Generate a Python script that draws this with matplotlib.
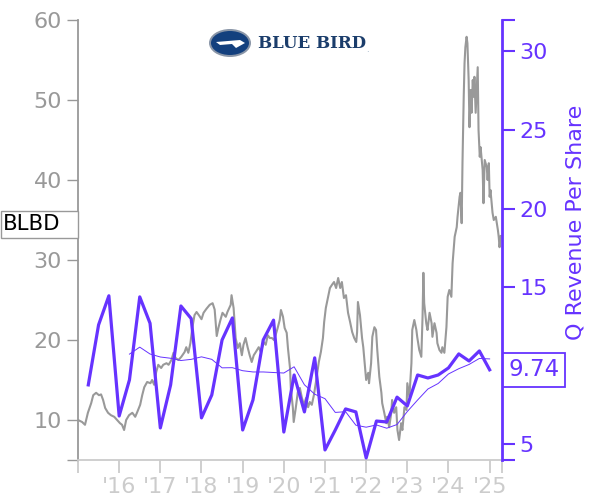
import matplotlib
matplotlib.use("Agg")
import matplotlib.pyplot as plt
import matplotlib.transforms as mtransforms
import numpy as np
import pandas as pd
from matplotlib.patches import Ellipse, Polygon, Rectangle

# ---------------- data ----------------
ticker = "BLBD"
last_rev_label = "9.74"

price_dates = [
    2015.00, 2015.10, 2015.17, 2015.24, 2015.32, 2015.37, 2015.44, 2015.51, 2015.56, 2015.61,
    2015.66, 2015.73, 2015.80, 2015.88, 2015.95, 2016.02, 2016.07, 2016.12, 2016.17, 2016.24,
    2016.32, 2016.39, 2016.44, 2016.51, 2016.56, 2016.61, 2016.68, 2016.76, 2016.80, 2016.85,
    2016.90, 2016.95, 2017.02, 2017.07, 2017.15, 2017.20, 2017.27, 2017.32, 2017.37, 2017.44,
    2017.51, 2017.59, 2017.63, 2017.68, 2017.73, 2017.78, 2017.83, 2017.88, 2017.95, 2018.00,
    2018.05, 2018.12, 2018.20, 2018.27, 2018.32, 2018.37, 2018.41, 2018.46, 2018.51, 2018.59,
    2018.63, 2018.71, 2018.73, 2018.78, 2018.83, 2018.88, 2018.93, 2018.98, 2019.02, 2019.07,
    2019.12, 2019.17, 2019.22, 2019.27, 2019.32, 2019.39, 2019.44, 2019.51, 2019.56, 2019.61,
    2019.66, 2019.71, 2019.76, 2019.80, 2019.85, 2019.90, 2019.93, 2019.98, 2020.02, 2020.07,
    2020.10, 2020.15, 2020.17, 2020.22, 2020.24, 2020.29, 2020.34, 2020.39, 2020.44, 2020.49,
    2020.54, 2020.59, 2020.63, 2020.68, 2020.73, 2020.78, 2020.83, 2020.85, 2020.90, 2020.95,
    2020.98, 2021.02, 2021.07, 2021.12, 2021.17, 2021.22, 2021.27, 2021.32, 2021.37, 2021.41,
    2021.46, 2021.51, 2021.56, 2021.61, 2021.66, 2021.71, 2021.76, 2021.78, 2021.80, 2021.85,
    2021.90, 2021.93, 2021.98, 2022.00, 2022.05, 2022.07, 2022.12, 2022.15, 2022.20, 2022.24,
    2022.27, 2022.32, 2022.37, 2022.39, 2022.44, 2022.49, 2022.51, 2022.56, 2022.61, 2022.63,
    2022.68, 2022.73, 2022.76, 2022.80, 2022.85, 2022.88, 2022.93, 2022.98, 2023.00, 2023.05,
    2023.10, 2023.12, 2023.17, 2023.22, 2023.24, 2023.29, 2023.34, 2023.37, 2023.39, 2023.41,
    2023.46, 2023.49, 2023.54, 2023.59, 2023.61, 2023.66, 2023.71, 2023.73, 2023.78, 2023.83,
    2023.85, 2023.90, 2023.95, 2023.98, 2024.02, 2024.07, 2024.10, 2024.15, 2024.20, 2024.22,
    2024.27, 2024.29, 2024.32, 2024.34, 2024.37, 2024.39, 2024.41, 2024.44, 2024.46, 2024.49,
    2024.51, 2024.54, 2024.56, 2024.59, 2024.61, 2024.63, 2024.66, 2024.71, 2024.73, 2024.76,
    2024.78, 2024.83, 2024.85, 2024.88, 2024.93, 2024.95, 2024.98, 2025.00, 2025.02, 2025.07,
    2025.10, 2025.15, 2025.20, 2025.22, 2025.24, 2025.27,
]
price_values = [
    10.0, 9.75, 9.4, 10.9, 12.1, 13.1, 13.4, 13.1, 13.2, 12.5,
    11.5, 10.9, 10.6, 10.4, 10.0, 9.6, 9.4, 8.75, 10.0, 10.6,
    10.9, 10.4, 11.0, 11.9, 13.1, 14.1, 14.75, 14.6, 15.0, 14.4,
    16.0, 16.9, 16.5, 16.9, 17.1, 16.9, 17.5, 18.4, 17.75, 17.5,
    17.9, 18.5, 19.1, 18.4, 19.6, 21.6, 23.1, 23.5, 23.0, 22.6,
    23.4, 23.9, 24.4, 24.6, 23.8, 20.5, 21.5, 22.5, 23.4, 22.9,
    23.5, 24.4, 25.6, 24.0, 20.25, 19.0, 19.6, 18.1, 19.4, 20.25,
    19.1, 18.1, 17.25, 18.1, 18.5, 19.1, 18.5, 19.75, 19.4, 20.6,
    20.25, 20.25, 20.0, 20.6, 21.5, 22.5, 23.75, 22.9, 21.5, 20.9,
    19.0, 16.5, 14.0, 11.5, 9.75, 11.5, 13.5, 14.0, 12.75, 11.9,
    12.75, 11.6, 12.25, 11.9, 13.1, 14.75, 16.5, 17.25, 18.5, 20.25,
    22.25, 24.0, 25.25, 26.5, 26.9, 27.25, 26.5, 27.75, 26.5, 27.25,
    25.25, 25.6, 23.4, 22.25, 21.0, 20.25, 19.75, 21.0, 24.75, 23.1,
    20.25, 19.1, 16.25, 15.0, 15.9, 14.6, 17.1, 20.4, 21.6, 21.25,
    18.75, 15.4, 13.4, 12.1, 10.9, 9.6, 10.4, 9.1, 10.9, 12.5,
    10.9, 11.6, 8.75, 7.5, 9.6, 8.75, 11.6, 11.25, 14.6, 12.9,
    17.1, 21.25, 22.5, 21.25, 20.4, 18.75, 17.9, 22.9, 28.4, 24.6,
    22.1, 21.25, 23.4, 22.1, 20.4, 22.1, 20.9, 19.6, 18.75, 18.4,
    19.1, 18.4, 21.6, 25.4, 26.25, 25.4, 29.6, 32.9, 34.1, 35.4,
    37.9, 38.4, 34.6, 42.1, 50.4, 54.6, 56.6, 57.9, 57.1, 52.5,
    46.6, 51.25, 48.4, 52.5, 50.4, 52.9, 48.4, 54.1, 46.25, 42.9,
    44.1, 41.25, 37.1, 42.5, 41.6, 40.0, 42.1, 37.9, 38.75, 35.9,
    35.0, 35.4, 33.75, 32.9, 31.6, 33.0,
]

rev_dates = [
    2015.25, 2015.50, 2015.75, 2016.00, 2016.25, 2016.50, 2016.75, 2017.00,
    2017.25, 2017.50, 2017.75, 2018.00, 2018.25, 2018.50, 2018.75, 2019.00,
    2019.25, 2019.50, 2019.75, 2020.00, 2020.25, 2020.50, 2020.75, 2021.00,
    2021.25, 2021.50, 2021.75, 2022.00, 2022.25, 2022.50, 2022.75, 2023.00,
    2023.25, 2023.50, 2023.75, 2024.00, 2024.25, 2024.50, 2024.75, 2025.00,
]
rev_values = [
    8.78, 12.6, 14.45, 6.8, 9.1, 14.38, 12.7, 6.04,
    8.78, 13.8, 13.0, 6.68, 8.14, 11.64, 13.04, 5.91,
    7.82, 11.64, 12.9, 5.78, 9.41, 7.06, 10.5, 4.64,
    5.91, 7.25, 7.06, 4.13, 6.48, 6.42, 8.0, 7.44,
    9.41, 9.22, 9.41, 9.86, 10.75, 10.3, 10.94, 9.74,
]

year_ticks = [2016, 2017, 2018, 2019, 2020, 2021, 2022, 2023, 2024, 2025]
year_labels = ["'16", "'17", "'18", "'19", "'20", "'21", "'22", "'23", "'24", "'25"]
left_ticks = [10, 20, 30, 40, 50, 60]
right_ticks = [5, 10, 15, 20, 25, 30]

# ---------------- style ----------------
PURPLE = "#6633ff"
GRAY = "#999999"
LIGHT = "#cccccc"
FS = 16

rev = pd.Series(rev_values, index=rev_dates)
rev_avg = rev.rolling(4).mean()
rev_avg = rev_avg[rev_avg.index >= 2016.25]

fig = plt.figure(figsize=(6, 5), dpi=100)
ax = fig.add_axes([78 / 600, 1 - 460 / 500, (502 - 78) / 600, 440 / 500])
ax2 = ax.twinx()

ax.plot(price_dates, price_values, color=GRAY, lw=1.5, zorder=2)
ax2.plot(rev.index, rev.values, color=PURPLE, lw=2.3, zorder=3)
ax2.plot(rev_avg.index, rev_avg.values, color=PURPLE, lw=0.7, zorder=3)

xmin, xmax = 2015.0, 2025.3
ax.set_xlim(xmin, xmax)
ax.set_ylim(5, 60)
ax2.set_ylim(4, 32)

# left axis
ax.set_yticks([5] + left_ticks)
ax.set_yticklabels([""] + [str(t) for t in left_ticks])
ax.tick_params(axis="y", colors=GRAY, labelsize=FS, length=8, width=1)
ax.set_xticks([xmin] + year_ticks + [xmax])
ax.set_xticklabels([""] + year_labels + [""])
ax.tick_params(axis="x", colors=LIGHT, labelcolor=LIGHT, labelsize=FS, length=9, width=1.3)

for s in ["top", "right"]:
    ax.spines[s].set_visible(False)
ax.spines["left"].set_color(GRAY)
ax.spines["left"].set_linewidth(1.3)
ax.spines["bottom"].set_color(LIGHT)
ax.spines["bottom"].set_linewidth(1.3)

# right axis
for s in ["top", "left", "bottom"]:
    ax2.spines[s].set_visible(False)
ax2.spines["right"].set_color(PURPLE)
ax2.spines["right"].set_linewidth(2)
ax2.set_yticks([4] + right_ticks + [32])
ax2.set_yticklabels([""] + [str(t) if t != 10 else "" for t in right_ticks] + [""])
ax2.tick_params(axis="y", colors=PURPLE, labelsize=FS, length=9, width=1.5)
ax2.set_ylabel("Q Revenue Per Share", color=PURPLE, fontsize=FS, labelpad=13)
ax2.yaxis.label.set_y(0.54)

# ticker box on left (fixed-width box from the figure edge to the spine)
label_y = price_values[-1] + 1.5
blend = mtransforms.blended_transform_factory(fig.transFigure, ax.transData)
box_h = 27 / 8.0  # in price units (8 px per unit)
fig.patches.append(Rectangle((0.5 / 600, label_y - box_h / 2), 77.5 / 600, box_h,
                             transform=blend, fc="white", ec=GRAY, lw=1, zorder=8))
fig.text(3 / 600, label_y, ticker, transform=blend, fontsize=15.3, color="black",
         ha="left", va="center", zorder=9)

# last revenue box on right
ax2.annotate(last_rev_label, xy=(1, rev_values[-1]), xycoords=("axes fraction", "data"),
             xytext=(4.5, 0), textcoords="offset points", ha="left", va="center",
             fontsize=16.5, color=PURPLE, annotation_clip=False, zorder=10,
             bbox=dict(boxstyle="square,pad=0.25", fc="white", ec=PURPLE, lw=1.3))

# logo
cx, cy = 230 / 600, 1 - 43 / 500
fig.patches.append(Ellipse((cx, cy), 42 / 600, 28 / 500, transform=fig.transFigure,
                           fc="#8a96a8", ec="none", zorder=5))
fig.patches.append(Ellipse((cx, cy), 38 / 600, 24 / 500, transform=fig.transFigure,
                           fc="#13407e", ec="none", zorder=6))
fig.patches.append(Polygon([(cx - 14 / 600, cy + 1 / 500), (cx + 10 / 600, cy + 3 / 500),
                            (cx + 15 / 600, cy), (cx + 6 / 600, cy - 5 / 500),
                            (cx + 2 / 600, cy - 1 / 500), (cx - 10 / 600, cy - 2 / 500)],
                           closed=True, transform=fig.transFigure, fc="white", ec="none", zorder=7))
fig.text(258 / 600, cy, "BLUE BIRD", fontsize=12, fontweight="bold", family="DejaVu Serif",
         color="#1b3d6b", ha="left", va="center")
fig.text(366 / 600, cy - 6 / 500, ".", fontsize=6, color="#8aa0b8", ha="left", va="center")

fig.savefig("out.png", dpi=100)
